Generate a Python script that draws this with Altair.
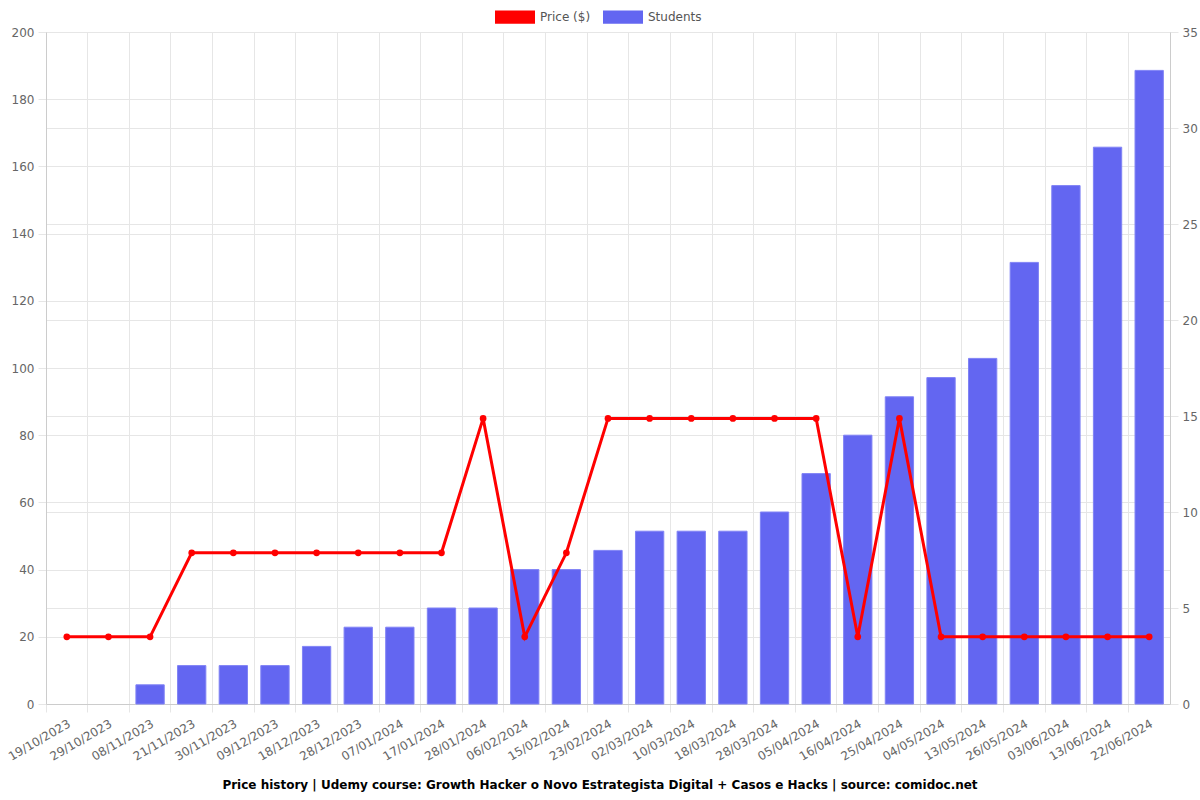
import altair as alt
import pandas as pd

dates = ["19/10/2023","29/10/2023","08/11/2023","21/11/2023","30/11/2023","09/12/2023",
         "18/12/2023","28/12/2023","07/01/2024","17/01/2024","28/01/2024","06/02/2024",
         "15/02/2024","23/02/2024","02/03/2024","10/03/2024","18/03/2024","28/03/2024",
         "05/04/2024","16/04/2024","25/04/2024","04/05/2024","13/05/2024","26/05/2024",
         "03/06/2024","13/06/2024","22/06/2024"]
price = [20,20,20,45,45,45,45,45,45,45,85,20,45,85,85,85,85,85,85,20,85,20,20,20,20,20,20]
students = [0,0,1,2,2,2,3,4,4,5,5,7,7,8,9,9,9,10,12,14,16,17,18,23,27,29,33]

df = pd.DataFrame({"date": dates, "price": price, "students": students})

FONT = "DejaVu Sans"
GRID = "#e6e6e6"
xenc = alt.X("date:O", sort=dates, title=None,
             scale=alt.Scale(paddingInner=0, paddingOuter=0),
             axis=alt.Axis(labelAngle=-30, labelAlign="right", labelBaseline="top",
                           bandPosition=0, grid=True, gridColor=GRID,
                           tickColor=GRID, tickSize=8, domainColor="#cccccc",
                           labelColor="#666666", labelFontSize=12, labelFont=FONT,
                           labelPadding=6))

color_scale = alt.Scale(domain=["Price ($)", "Students"], range=["#ff0000", "#6366f1"])
legend = alt.Legend(title=None, orient="none", legendX=449, legendY=-35, direction="horizontal",
                    symbolType="M-1,-0.33L1,-0.33L1,0.33L-1,0.33Z", symbolSize=1600,
                    symbolStrokeWidth=0, symbolOpacity=1, labelFont=FONT, labelFontSize=12,
                    labelColor="#555555", columnPadding=12, labelOffset=5)

bars = alt.Chart(df).transform_filter("datum.students > 0").transform_calculate(
    series="'Students'"
).mark_bar(
    width=alt.RelativeBandSize(0.68), stroke="#8083f5", strokeWidth=1
).encode(
    x=xenc,
    y=alt.Y("students:Q", title=None,
            scale=alt.Scale(domain=[0, 35], nice=False),
            axis=alt.Axis(orient="right", values=list(range(0, 36, 5)), grid=True,
                          gridColor=GRID, tickColor=GRID, tickSize=8, domainColor="#cccccc",
                          labelColor="#666666", labelFontSize=12, labelFont=FONT, labelPadding=4)),
    color=alt.Color("series:N", scale=color_scale, legend=legend),
)

line = alt.Chart(df).transform_calculate(series="'Price ($)'").mark_line(
    strokeWidth=3, point=alt.OverlayMarkDef(size=45, filled=True, opacity=1)
).encode(
    x=xenc,
    y=alt.Y("price:Q", title=None,
            scale=alt.Scale(domain=[0, 200], nice=False),
            axis=alt.Axis(orient="left", values=list(range(0, 201, 20)), grid=True,
                          gridColor=GRID, tickColor=GRID, tickSize=8, domainColor="#cccccc",
                          labelColor="#666666", labelFontSize=12, labelFont=FONT, labelPadding=4)),
    color=alt.Color("series:N", scale=color_scale, legend=legend),
)

chart = alt.layer(bars, line).resolve_scale(y="independent").properties(
    width=1124, height=672,
    autosize=alt.AutoSizeParams(type="none"),
    padding={"left": 46, "top": 32, "right": 30, "bottom": 96},
    title=alt.TitleParams(
        "Price history | Udemy course: Growth Hacker o Novo Estrategista Digital + Casos e Hacks | source: comidoc.net",
        orient="bottom", anchor="middle", font=FONT, fontSize=12, fontWeight="bold",
        color="#000000", offset=18, dx=-8),
).configure_view(stroke=None).configure(background="white")

chart.save("out.html", embed_options={"renderer": "svg", "actions": False})
